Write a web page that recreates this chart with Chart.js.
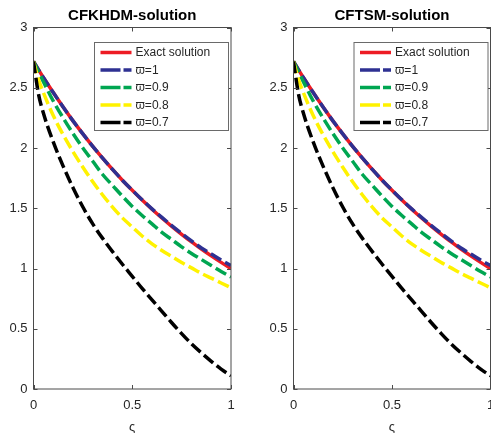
<!DOCTYPE html>
<html><head><meta charset="utf-8">
<script src="https://cdn.jsdelivr.net/npm/chart.js@4/dist/chart.umd.min.js"></script>
<style>
html,body{margin:0;padding:0;background:#fff;width:491px;height:433px;overflow:hidden}
.p{position:absolute;top:0}
canvas{display:block}
</style></head><body>
<div class="p" style="left:0"><canvas id="c1" width="245" height="433"></canvas></div>
<div class="p" style="left:245px"><canvas id="c2" width="246" height="433"></canvas></div>
<script>
// sample positions along the horizontal axis (ς)
const xs = [0, 0.025, 0.05, 0.1, 0.15, 0.2, 0.25, 0.3, 0.35, 0.4, 0.45, 0.5, 0.55, 0.6, 0.65, 0.7, 0.75, 0.8, 0.85, 0.9, 0.95, 1];
// series values (both panels look identical)
const exactVals = [2.718, 2.65, 2.585, 2.46, 2.34, 2.225, 2.117, 2.014, 1.916, 1.822, 1.733, 1.649, 1.568, 1.492, 1.419, 1.35, 1.284, 1.221, 1.162, 1.105, 1.051, 1.0];
const w10Vals = [2.718, 2.65, 2.585, 2.46, 2.34, 2.225, 2.117, 2.014, 1.916, 1.822, 1.733, 1.65, 1.57, 1.495, 1.424, 1.356, 1.291, 1.229, 1.17, 1.12, 1.07, 1.025];
const w09Vals = [2.718, 2.63, 2.55, 2.39, 2.25, 2.12, 2.00, 1.89, 1.78, 1.69, 1.60, 1.515, 1.44, 1.37, 1.30, 1.24, 1.18, 1.125, 1.075, 1.025, 0.975, 0.93];
const w08Vals = [2.718, 2.57, 2.46, 2.27, 2.11, 1.97, 1.84, 1.72, 1.61, 1.51, 1.42, 1.345, 1.27, 1.205, 1.15, 1.10, 1.05, 1.005, 0.96, 0.92, 0.88, 0.84];
const w07Vals = [2.718, 2.45, 2.29, 2.05, 1.85, 1.67, 1.51, 1.37, 1.25, 1.14, 1.035, 0.935, 0.835, 0.74, 0.645, 0.55, 0.46, 0.375, 0.30, 0.23, 0.165, 0.11];
const seriesLabels = ['Exact solution', 'ϖ=1', 'ϖ=0.9', 'ϖ=0.8', 'ϖ=0.7'];
const panelTitles = ['CFKHDM-solution', 'CFTSM-solution'];
const xTicks = [0, 0.5, 1];
const yTicks = [0, 0.5, 1, 1.5, 2, 2.5, 3];
const xLabel = 'ς';

const colors = ['#ed1c24', '#2e3192', '#00a651', '#fff200', '#000000'];
const seriesVals = [exactVals, w10Vals, w09Vals, w08Vals, w07Vals];
const AX = '#4a4a4a', TXT = '#262626';
const FONT = '"Liberation Sans", Arial, sans-serif';

function pts(v) { return xs.map((x, i) => ({x: x, y: v[i]})); }

const overlay = {
  id: 'overlay',
  afterDraw(chart) {
    const ctx = chart.ctx, a = chart.chartArea, sx = chart.scales.x, sy = chart.scales.y;
    const cfg = chart.options.plugins.overlay;
    ctx.save();
    ctx.strokeStyle = AX; ctx.lineWidth = 1;
    ctx.strokeRect(a.left, a.top, a.right - a.left, a.bottom - a.top);
    ctx.beginPath();
    const tl = 4;
    xTicks.forEach(t => {
      const px = Math.round(sx.getPixelForValue(t)) + 0.5;
      ctx.moveTo(px, a.bottom); ctx.lineTo(px, a.bottom - tl);
      ctx.moveTo(px, a.top); ctx.lineTo(px, a.top + tl);
    });
    yTicks.forEach(t => {
      const py = Math.round(sy.getPixelForValue(t)) + 0.5;
      ctx.moveTo(a.left, py); ctx.lineTo(a.left + tl, py);
      ctx.moveTo(a.right, py); ctx.lineTo(a.right - tl, py);
    });
    ctx.stroke();
    ctx.fillStyle = '#000';
    ctx.font = 'bold 15px ' + FONT;
    ctx.textAlign = 'center'; ctx.textBaseline = 'middle';
    ctx.fillText(cfg.title, (a.left + a.right) / 2, 16);
    ctx.fillStyle = TXT;
    ctx.font = '13px ' + FONT;
    ctx.fillText(xLabel, (a.left + a.right) / 2, 427);
    const lw = 134, lh = 88;
    const lx = a.right - lw - 2.5, ly = 42.5;
    ctx.fillStyle = '#fff';
    ctx.fillRect(lx, ly, lw, lh);
    ctx.strokeStyle = '#6a6a6a'; ctx.lineWidth = 1;
    ctx.strokeRect(lx, ly, lw, lh);
    ctx.font = '12px ' + FONT;
    ctx.textAlign = 'left'; ctx.textBaseline = 'middle';
    chart.data.datasets.forEach((ds, i) => {
      const y = ly + 10 + i * 17.5;
      ctx.strokeStyle = ds.borderColor; ctx.lineWidth = 3.5;
      ctx.setLineDash(i === 0 ? [] : [20, 3, 8, 40]);
      ctx.beginPath(); ctx.moveTo(lx + 6, y); ctx.lineTo(lx + 37, y); ctx.stroke();
      ctx.setLineDash([]);
      ctx.fillStyle = TXT;
      ctx.fillText(ds.label, lx + 41, y + 0.5);
    });
    ctx.restore();
  }
};

function makeChart(id, title, area, W, H) {
  const datasets = seriesVals.map((v, i) => ({
    label: seriesLabels[i],
    data: pts(v),
    borderColor: colors[i],
    backgroundColor: colors[i],
    borderWidth: 3.5,
    borderDash: i === 0 ? [] : [12, 4.5],
    pointRadius: 0,
    cubicInterpolationMode: 'monotone',
    fill: false,
    order: 5 - i
  }));
  return new Chart(document.getElementById(id), {
    type: 'line',
    data: {datasets},
    options: {
      responsive: false, animation: false, devicePixelRatio: 1,
      layout: {padding: {left: 0, right: W - area.right, top: area.top, bottom: 0}},
      scales: {
        x: {
          type: 'linear', min: 0, max: 1,
          afterBuildTicks: s => { s.ticks = xTicks.map(v => ({value: v})); },
          ticks: {padding: 9, color: TXT, font: {family: FONT, size: 13}, maxRotation: 0, autoSkip: false,
                  callback: v => String(v)},
          grid: {display: false, drawTicks: false}, border: {display: false},
          afterFit: s => { s.height = H - area.bottom; s.paddingLeft = 0; s.paddingRight = 0; }
        },
        y: {
          type: 'linear', min: 0, max: 3,
          afterBuildTicks: s => { s.ticks = yTicks.map(v => ({value: v})); },
          ticks: {padding: 6, color: TXT, font: {family: FONT, size: 13}, autoSkip: false,
                  callback: v => String(v)},
          grid: {display: false, drawTicks: false}, border: {display: false},
          afterFit: s => { s.width = area.left; s.paddingTop = 0; s.paddingBottom = 0; }
        }
      },
      plugins: {legend: {display: false}, title: {display: false}, tooltip: {enabled: false},
        overlay: {title: title}}
    },
    plugins: [overlay]
  });
}

makeChart('c1', panelTitles[0], {left: 33.5, right: 231, top: 27.5, bottom: 389}, 245, 433);
makeChart('c2', panelTitles[1], {left: 48.5, right: 245.5, top: 27.5, bottom: 389}, 246, 433);
</script>
</body></html>
